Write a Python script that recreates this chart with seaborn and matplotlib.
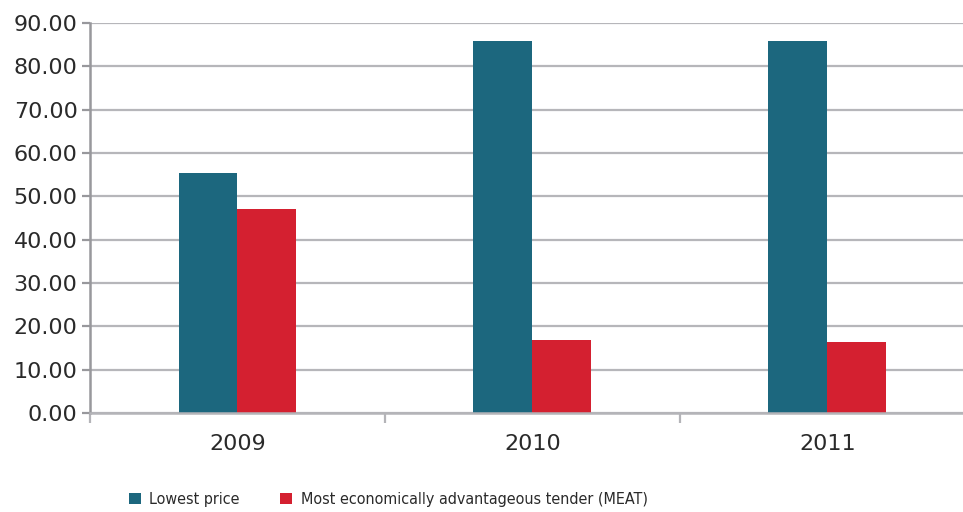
import matplotlib
matplotlib.use("Agg")
import matplotlib.pyplot as plt
import seaborn as sns
import pandas as pd
from matplotlib.ticker import FormatStrFormatter, FixedLocator
from matplotlib.patches import Patch

years = ["2009", "2010", "2011"]
lowest_price = [55.4, 85.9, 85.9]
meat = [47.1, 16.9, 16.5]
series_names = ["Lowest price", "Most economically advantageous tender (MEAT)"]
colors = ["#1c677e", "#d42030"]

df = pd.DataFrame({
    "year": years * 2,
    "value": lowest_price + meat,
    "series": [series_names[0]] * 3 + [series_names[1]] * 3,
})

sns.set_theme(style="white")
plt.rcParams["font.family"] = ["DejaVu Sans"]

fig = plt.figure(figsize=(9.63, 5.12), dpi=100)
ax = fig.add_axes([0.0935, 0.193, 0.9065, 0.762])

sns.barplot(data=df, x="year", y="value", hue="series", palette=colors,
            width=0.4, ax=ax, legend=False, saturation=1, linewidth=0)

ax.set_ylim(0, 90)
ax.set_xlim(-0.5, 2.46)
ax.set_yticks(range(0, 91, 10))
ax.yaxis.set_major_formatter(FormatStrFormatter("%.2f"))
ax.yaxis.grid(True, color="#b6b6ba", linewidth=1.6)
ax.set_axisbelow(True)
ax.set_xlabel("")
ax.set_ylabel("")

for s in ["top", "right"]:
    ax.spines[s].set_visible(False)
ax.spines["left"].set_color("#98989c")
ax.spines["left"].set_linewidth(1.8)
ax.spines["bottom"].set_color("#b4b4b8")
ax.spines["bottom"].set_linewidth(1.8)

ax.tick_params(axis="y", left=True, length=6, width=1.6, color="#98989c",
               labelsize=16, labelcolor="#2a2a2a", pad=3)
ax.tick_params(axis="x", which="major", bottom=False, length=0,
               labelsize=16, labelcolor="#2a2a2a", pad=15)
ax.xaxis.set_minor_locator(FixedLocator([-0.5, 0.5, 1.5]))
ax.tick_params(axis="x", which="minor", bottom=True, length=7, width=1.6,
               color="#b4b4b8", direction="out")

handles = [Patch(facecolor=c, edgecolor="none") for c in colors]
fig.legend(handles, series_names, loc="center", bbox_to_anchor=(0.403, 0.024),
           ncol=2, frameon=False, handlelength=0.75, handleheight=0.75,
           handletextpad=0.55, columnspacing=2.5,
           prop={"family": ["DejaVu Sans"], "stretch": "condensed", "size": 11.5})
for t in fig.legends[0].get_texts():
    t.set_color("#2a2a2a")

fig.savefig("out.png", dpi=100)
